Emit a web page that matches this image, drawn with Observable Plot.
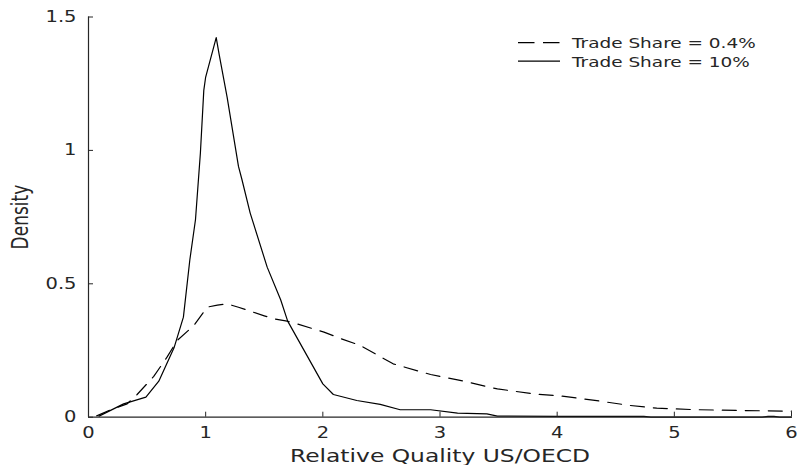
<!DOCTYPE html>
<html><head><meta charset="utf-8">
<script src="https://cdn.jsdelivr.net/npm/d3@7"></script>
<script src="https://cdn.jsdelivr.net/npm/@observablehq/plot@0.6"></script>
<style>
body{margin:0;background:#fff;}
#wrap{position:relative;width:801px;height:465px;overflow:hidden;}
#leg{position:absolute;left:0;top:0;pointer-events:none;}
</style></head><body><div id="wrap"></div>
<script>
const xTicks = [0, 1, 2, 3, 4, 5, 6];
const yTicks = [0, 0.5, 1, 1.5];
const xLabel = "Relative Quality US/OECD";
const yLabel = "Density";
const seriesNames = ["Trade Share = 0.4%", "Trade Share = 10%"];

// Trade Share = 0.4% (dashed)
const lowX = [0.07, 0.2, 0.33, 0.415, 0.557, 0.67, 0.757, 0.9, 1.013, 1.1, 1.183, 1.28, 1.38, 1.5, 1.58, 1.695, 1.78, 2.01, 2.15, 2.32, 2.6, 2.92, 3.15, 3.49, 3.8, 4.06, 4.37, 4.62, 4.85, 5.19, 5.6, 6.0];
const lowY = [0.005, 0.03, 0.05, 0.085, 0.153, 0.225, 0.2875, 0.344, 0.4125, 0.42, 0.425, 0.412, 0.3975, 0.38, 0.369, 0.36, 0.35, 0.319, 0.295, 0.269, 0.2, 0.16, 0.14, 0.106, 0.0875, 0.078, 0.06, 0.044, 0.034, 0.028, 0.025, 0.0225];

// Trade Share = 10% (solid)
const highX = [0.09, 0.3, 0.49, 0.6, 0.73, 0.81, 0.865, 0.913, 0.955, 0.984, 1.0, 1.09, 1.115, 1.183, 1.28, 1.31, 1.38, 1.525, 1.64, 1.7, 2.0, 2.09, 2.29, 2.49, 2.66, 2.92, 3.15, 3.4, 3.49, 4.0, 4.74, 4.8, 5.75, 5.8, 5.85, 5.9, 6.0];
const highY = [0.004, 0.05, 0.075, 0.135, 0.26, 0.375, 0.59, 0.74, 0.99, 1.225, 1.275, 1.423, 1.36, 1.2, 0.94, 0.89, 0.765, 0.5625, 0.44, 0.36, 0.125, 0.085, 0.0625, 0.048, 0.028, 0.028, 0.015, 0.0125, 0.004, 0.003, 0.003, 0, 0, 0.003, 0.003, 0, 0];

const low = lowX.map((x, i) => ({x, y: lowY[i]}));
const high = highX.map((x, i) => ({x, y: highY[i]}));

const ink = "#262626";
const fam = "DejaVu Sans";

const chart = Plot.plot({
  width: 801, height: 465,
  marginLeft: 88, marginRight: 10, marginTop: 16.5, marginBottom: 48.3,
  style: {fontFamily: fam, fontSize: "15px", color: ink, background: "white"},
  x: {domain: [0, 6]},
  y: {domain: [0, 1.5]},
  marks: [
    Plot.line(low, {x: "x", y: "y", stroke: "black", strokeWidth: 1.2, strokeDasharray: "14,9"}),
    Plot.line(high, {x: "x", y: "y", stroke: "black", strokeWidth: 1.2}),
    Plot.ruleX([0], {stroke: ink, strokeWidth: 1.2}),
    Plot.ruleY([0], {stroke: ink, strokeWidth: 1.2}),
    Plot.axisX(xTicks, {tickSize: -5, tickPadding: 15, stroke: ink, label: null, tickFormat: d => String(d)}),
    Plot.axisY(yTicks, {tickSize: -5, tickPadding: 17, stroke: ink, label: null, tickFormat: d => String(d)}),
    Plot.text([xLabel], {frameAnchor: "bottom", textAnchor: "middle", lineAnchor: "bottom", dy: 44.3, fontSize: 18, fill: ink, className: "xlab"}),
    Plot.text([yLabel], {frameAnchor: "left", textAnchor: "middle", lineAnchor: "top", rotate: -90, dx: -76, fontSize: 17, fill: ink, className: "ylab"})
  ]
});

const wrap = document.getElementById("wrap");
wrap.appendChild(chart);

// legend overlay
const ns = "http://www.w3.org/2000/svg";
const leg = document.createElementNS(ns, "svg");
leg.setAttribute("id", "leg");
leg.setAttribute("width", 801);
leg.setAttribute("height", 465);
const rows = [
  {name: seriesNames[0], dash: "16.5,8.5", y: 42.7, base: 48.3},
  {name: seriesNames[1], dash: null, y: 61.2, base: 66.7}
];
rows.forEach(r => {
  const l = document.createElementNS(ns, "line");
  l.setAttribute("x1", 518); l.setAttribute("x2", 560);
  l.setAttribute("y1", r.y); l.setAttribute("y2", r.y);
  l.setAttribute("stroke", "black"); l.setAttribute("stroke-width", 1.2);
  if (r.dash) l.setAttribute("stroke-dasharray", r.dash);
  leg.appendChild(l);
  const t = document.createElementNS(ns, "text");
  t.setAttribute("x", 0); t.setAttribute("y", 0);
  t.setAttribute("transform", `translate(572,${r.base}) scale(1.32,1)`);
  t.setAttribute("font-family", fam);
  t.setAttribute("font-size", 14);
  t.setAttribute("fill", ink);
  t.textContent = r.name;
  leg.appendChild(t);
});
wrap.appendChild(leg);

// horizontal stretch of the reference's text
chart.querySelectorAll("text").forEach(el => {
  const tr = el.getAttribute("transform");
  const isY = el.closest(".ylab") || (tr && tr.includes("rotate"));
  if (tr) {
    el.setAttribute("transform", tr + (isY ? " scale(1,1.3)" : " scale(1.3,1)"));
  } else {
    const x = +el.getAttribute("x") || 0;
    el.setAttribute("transform", `translate(${x},0) scale(1.3,1) translate(${-x},0)`);
  }
});
</script>
</body></html>
